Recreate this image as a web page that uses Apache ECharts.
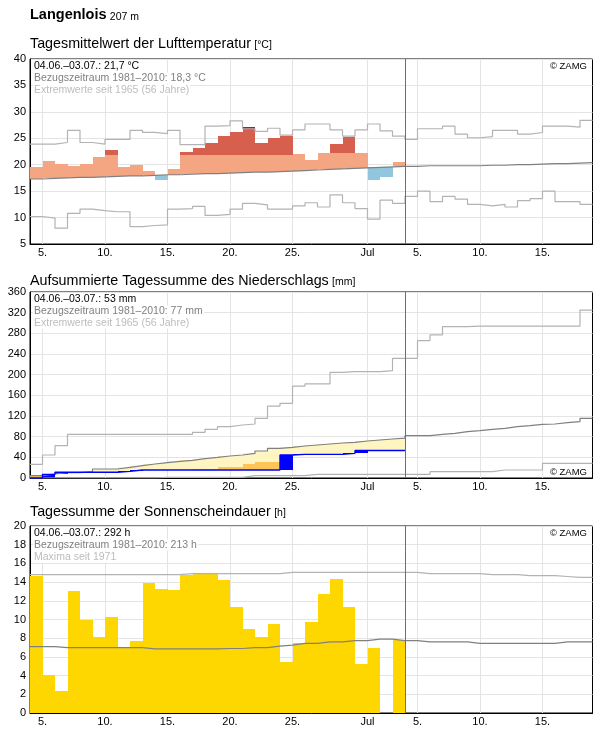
<!DOCTYPE html>
<html>
<head>
<meta charset="utf-8">
<script src="https://cdn.jsdelivr.net/npm/echarts@6/dist/echarts.min.js"></script>
<style>
  html, body { margin: 0; padding: 0; background: #fff; }
  #chart { width: 596px; height: 729px; }
</style>
</head>
<body>
<div id="chart"></div>
<script>
// Tage ab 04.06. (Index 0) bis 18.07. (Index 44), heute = 04.07. (Index 30)
var tickDays = [1, 6, 11, 16, 21, 27, 31, 36, 41];
var tickLabels = ['5.', '10.', '15.', '20.', '25.', 'Jul', '5.', '10.', '15.'];
var todayIndex = 30;

// Lufttemperatur [°C]
var tempDaily = [19.6, 20.7, 20.1, 19.8, 20.1, 21.5, 22.7, 19.6, 19.9, 18.8, 17.1, 19.1, 22.5, 23.2, 24.2,
  25.4, 26.1, 27.2, 24.2, 25.1, 25.4, 22.0, 20.9, 22.2, 23.9, 25.3, 22.2, 17.1, 17.7, 20.5];
var tempUpperNormal = [21.8, 21.8, 21.8, 21.8, 21.8, 21.8, 21.8, 21.8, 21.8, 21.8, 21.8, 21.8, 21.9, 21.9, 21.9,
  21.9, 21.9, 21.9, 21.9, 21.9, 21.9, 22.3, 22.3, 22.3, 22.3, 22.3, 22.3, 22.3, 22.3, 22.3];
var tempNormal = [17.3, 17.4, 17.5, 17.6, 17.6, 17.7, 17.8, 17.9, 17.9, 18.0, 18.1, 18.1, 18.2, 18.3, 18.3,
  18.4, 18.5, 18.6, 18.6, 18.7, 18.8, 18.9, 19.0, 19.1, 19.2, 19.3, 19.4, 19.5, 19.6, 19.7,
  19.7, 19.8, 19.8, 19.8, 19.8, 19.8, 19.9, 19.9, 20.0, 20.0, 20.1, 20.2, 20.2, 20.3, 20.4];
var tempMax = [23.9, 23.9, 24.2, 26.5, 24.2, 23.9, 24.8, 24.8, 26.5, 26.1, 25.9, 26.5, 23.8, 23.8, 27.3,
  27.4, 28.3, 26.8, 26.3, 26.9, 25.6, 26.6, 27.7, 27.7, 26.6, 25.4, 26.6, 27.7, 26.4, 25.4,
  24.8, 26.8, 26.8, 27.3, 25.8, 25.1, 25.3, 26.5, 26.5, 25.8, 26.1, 27.3, 27.3, 27.1, 28.4];
var tempMin = [10.2, 9.9, 8.0, 10.8, 11.6, 11.3, 11.1, 11.1, 8.3, 8.5, 8.6, 11.6, 11.7, 12.1, 10.4,
  10.6, 11.6, 12.7, 12.4, 11.6, 11.6, 12.2, 12.8, 12.0, 14.3, 12.8, 11.7, 9.7, 13.3, 12.7,
  14.0, 15.0, 13.0, 14.0, 13.5, 12.5, 12.2, 12.5, 12.0, 13.2, 13.6, 15.0, 13.0, 13.0, 12.5];

// Niederschlag, aufsummiert [mm]
var precipCum = [0, 7.1, 11, 11, 11, 11, 11, 12.9, 15.5, 15.5, 15.5, 15.5, 15.5, 15.5, 15.5,
  15.5, 15.5, 15.5, 15.5, 15.5, 44.6, 45.8, 45.8, 45.8, 45.8, 47.7, 53.3, 53.3, 53.3, 53.3];
var precipLow = [4.3, 4, 5, 6, 7, 9, 9, 10, 11, 12, 13, 14, 15, 18, 18,
  21.9, 21.9, 27, 31.6, 31.6, 33, 34, 35, 36, 37, 38, 39, 40, 41, 42];
var precipNormal = [4.5, 7.7, 10.3, 10.3, 12.3, 17.4, 17.4, 20.6, 23.9, 27.1, 29.7, 32.2, 34.2, 37.5, 40,
  42.6, 44.5, 47.7, 52.3, 57.4, 59.4, 61.9, 63.9, 65.8, 67.7, 69, 71.6, 73.5, 75.5, 77,
  81.9, 81.9, 84.5, 86.4, 89.7, 91.6, 94.2, 96.1, 99.4, 101.3, 103.9, 104.5, 107.1, 109, 115.5];
var precipMax = [26.5, 44.5, 62.5, 84.5, 84.5, 84.5, 84.5, 84.5, 84.5, 84.5, 84.5, 84.5, 84.5, 88.4, 94.2,
  99.3, 102.6, 104.5, 115.5, 139.3, 144.5, 178, 182, 182, 204.5, 205.8, 205.8, 205.8, 207.7, 231.6,
  231.6, 266, 277, 293, 293, 294, 294, 294, 294, 294, 294, 294, 294, 294, 325];
var precipMin = [0, 0, 0, 0, 0, 0, 0, 0, 0, 0, 1.3, 1.3, 1.3, 1.3, 1.3,
  1.3, 1.3, 4.5, 4.5, 4.5, 4.5, 4.5, 7.1, 7.1, 7.1, 7.1, 7.1, 7.1, 7.1, 7.1,
  7.1, 7.1, 12.3, 12.3, 12.3, 12.3, 12.3, 15.5, 15.5, 15.5, 15.5, 28.4, 28.4, 28.4, 28.4];

// Sonnenscheindauer [h]
var sunDaily = [14.6, 4.1, 2.3, 13.0, 9.9, 8.1, 10.3, 7.0, 7.7, 13.9, 13.3, 13.2, 14.8, 14.9, 14.9,
  14.2, 11.3, 9.0, 8.1, 9.5, 5.5, 7.5, 9.7, 12.7, 14.3, 11.3, 5.2, 6.9, 0, 7.8];
var sunNormal = [7.1, 7.1, 7.0, 7.0, 7.0, 7.0, 7.0, 7.0, 7.0, 6.85, 6.85, 6.85, 6.85, 6.85, 6.85,
  6.9, 6.9, 7.0, 7.0, 7.15, 7.25, 7.45, 7.45, 7.6, 7.6, 7.75, 7.75, 7.9, 7.9, 7.75,
  7.75, 7.6, 7.6, 7.6, 7.6, 7.45, 7.45, 7.45, 7.45, 7.45, 7.45, 7.45, 7.6, 7.6, 7.6];
var sunMax = [14.8, 14.8, 14.8, 14.8, 14.8, 14.8, 14.8, 14.8, 14.8, 14.8, 14.8, 14.8, 14.9, 14.9, 14.9,
  14.9, 14.9, 14.9, 14.9, 14.9, 15.05, 15.05, 15.05, 15.05, 15.05, 15.05, 15.05, 15.05, 15.05, 15.05,
  15.05, 14.9, 14.9, 14.9, 14.9, 14.9, 14.8, 14.8, 14.8, 14.7, 14.7, 14.7, 14.6, 14.5, 14.5];

var FONT = '"Liberation Sans", Arial, sans-serif';
var GRID_COLOR = '#e4e4e4';
var EXT_COLOR = '#b3b3b3';
var NORM_COLOR = '#808080';

function stepData(arr) {
  var out = arr.map(function (v, i) { return [i, v]; });
  out.push([arr.length, arr[arr.length - 1]]);
  return out;
}

// ganzer Tag als Rechteck, auf ganze Pixel gerundet (keine Haarlinien zwischen den Balken)
function rectOf(api, i, lo, hi, color) {
  var p0 = api.coord([i, hi]);
  var p1 = api.coord([i + 1, lo]);
  var x0 = Math.round(p0[0]), x1 = Math.round(p1[0]);
  var y0 = Math.round(p0[1]), y1 = Math.round(p1[1]);
  return {
    type: 'rect',
    shape: { x: x0, y: y0, width: x1 - x0, height: y1 - y0 },
    style: { fill: color }
  };
}

function renderTemp(params, api) {
  var i = api.value(0), mean = api.value(1), val = api.value(2), upper = api.value(3), max = api.value(4);
  var parts = [];
  if (val >= mean) {
    parts.push(rectOf(api, i, mean, Math.min(val, upper), '#f4a582'));
    if (val > upper) parts.push(rectOf(api, i, upper, Math.min(val, max), '#d6604d'));
    if (val > max) parts.push(rectOf(api, i, max, val, '#b2182b'));
  } else {
    parts.push(rectOf(api, i, val, mean, '#92c5de'));
  }
  return { type: 'group', children: parts };
}

function renderPrecip(params, api) {
  var i = api.value(0), prev = api.value(1), cum = api.value(2), norm = api.value(3), low = api.value(4);
  var parts = [];
  if (cum < norm) parts.push(rectOf(api, i, cum, norm, '#fff5c0'));
  if (cum < low) parts.push(rectOf(api, i, cum, Math.min(low, norm), '#fdc458'));
  if (cum > prev) parts.push(rectOf(api, i, prev, cum, '#0000ff'));
  return { type: 'group', children: parts };
}

function renderSun(params, api) {
  var i = api.value(0), v = api.value(1);
  if (!(v > 0)) return null;
  return rectOf(api, i, 0, v, '#ffd700');
}

function xAxisFor(idx) {
  return {
    type: 'value', gridIndex: idx, min: 0, max: 45,
    axisLine: { show: true, onZero: false, lineStyle: { color: '#000', width: 1 } },
    axisTick: { show: false, customValues: tickDays },
    axisLabel: {
      customValues: tickDays, margin: 3, fontSize: 11, fontFamily: FONT, color: '#000',
      formatter: function (v) { var k = tickDays.indexOf(v); return k >= 0 ? tickLabels[k] : ''; }
    },
    splitLine: { show: true, lineStyle: { color: GRID_COLOR, width: 1 } }
  };
}

function yAxisFor(idx, min, max, interval) {
  return {
    type: 'value', gridIndex: idx, min: min, max: max, interval: interval,
    axisLine: { show: true, lineStyle: { color: '#000', width: 1 } },
    axisTick: { show: false },
    axisLabel: { margin: 4, fontSize: 11, fontFamily: FONT, color: '#000' },
    splitLine: { show: true, lineStyle: { color: GRID_COLOR, width: 1 } }
  };
}

function stepLine(idx, arr, color, width, z) {
  return {
    type: 'line', xAxisIndex: idx, yAxisIndex: idx, step: 'end', data: stepData(arr),
    symbol: 'none', silent: true, z: z || 3,
    lineStyle: { color: color, width: width || 1 }
  };
}

function todayLine(idx) {
  return {
    type: 'line', xAxisIndex: idx, yAxisIndex: idx, data: [], silent: true, z: 6,
    markLine: {
      symbol: 'none', silent: true, label: { show: false },
      lineStyle: { color: '#6e6e6e', width: 1, type: 'solid' },
      data: [{ xAxis: todayIndex }]
    }
  };
}

function infoTexts(top, lines) {
  var colors = ['#000', '#808080', '#bdbdbd'];
  return lines.map(function (t, k) {
    return {
      type: 'text', x: 33, y: top + 7 + k * 12, silent: true, z: 10,
      style: {
        text: t, fontSize: 10.5, fontFamily: FONT, fill: colors[k], verticalAlign: 'middle',
        backgroundColor: '#fff', padding: [0, 1, 0, 1]
      }
    };
  });
}

function zamg(y) {
  return {
    type: 'text', x: 588, y: y, silent: true, z: 10,
    style: {
      text: '© ZAMG', fontSize: 9.5, fontFamily: FONT, fill: '#000', align: 'right', verticalAlign: 'middle',
      backgroundColor: '#fff', padding: [0, 1, 0, 1]
    }
  };
}

function heading(y, main, unit, bold, size, unitSize) {
  return {
    type: 'text', x: 30, y: y, silent: true,
    style: {
      text: '{a|' + main + '} {b|' + unit + '}', verticalAlign: 'middle',
      rich: {
        a: { fontSize: size, fontWeight: bold ? 'bold' : 'normal', fontFamily: FONT, fill: '#000', verticalAlign: 'bottom' },
        b: { fontSize: unitSize, fontFamily: FONT, fill: '#000', verticalAlign: 'bottom' }
      }
    }
  };
}

var chart = echarts.init(document.getElementById('chart'), null, { renderer: 'canvas' });

var option = {
  animation: false,
  backgroundColor: '#fff',
  grid: [
    { left: 30, top: 59, width: 562.5, height: 185, show: true, borderColor: '#000', borderWidth: 1, backgroundColor: 'transparent' },
    { left: 30, top: 292, width: 562.5, height: 186, show: true, borderColor: '#000', borderWidth: 1, backgroundColor: 'transparent' },
    { left: 30, top: 526, width: 562.5, height: 187, show: true, borderColor: '#000', borderWidth: 1, backgroundColor: 'transparent' }
  ],
  xAxis: [xAxisFor(0), xAxisFor(1), xAxisFor(2)],
  yAxis: [yAxisFor(0, 5, 40, 5), yAxisFor(1, 0, 360, 40), yAxisFor(2, 0, 20, 2)],
  graphic: [
    heading(15, 'Langenlois', '207 m', true, 14.5, 10.5),
    heading(44, 'Tagesmittelwert der Lufttemperatur', '[°C]', false, 14.3, 10.5),
    heading(281, 'Aufsummierte Tagessumme des Niederschlags', '[mm]', false, 14.3, 10.5),
    heading(512, 'Tagessumme der Sonnenscheindauer', '[h]', false, 14.3, 10.5),
    zamg(66), zamg(472), zamg(533)
  ].concat(
    infoTexts(59, ['04.06.–03.07.: 21,7 °C', 'Bezugszeitraum 1981–2010: 18,3 °C', 'Extremwerte seit 1965 (56 Jahre)']),
    infoTexts(292, ['04.06.–03.07.: 53 mm', 'Bezugszeitraum 1981–2010: 77 mm', 'Extremwerte seit 1965 (56 Jahre)']),
    infoTexts(526, ['04.06.–03.07.: 292 h', 'Bezugszeitraum 1981–2010: 213 h', 'Maxima seit 1971'])
  ),
  series: [
    {
      type: 'custom', xAxisIndex: 0, yAxisIndex: 0, renderItem: renderTemp, silent: true, z: 2,
      data: tempDaily.map(function (v, i) { return [i, tempNormal[i], v, tempUpperNormal[i], tempMax[i]]; })
    },
    stepLine(0, tempMax, EXT_COLOR, 1.2),
    stepLine(0, tempMin, EXT_COLOR, 1.2),
    stepLine(0, tempNormal, NORM_COLOR, 1.2),
    todayLine(0),

    {
      type: 'custom', xAxisIndex: 1, yAxisIndex: 1, renderItem: renderPrecip, silent: true, z: 2,
      data: precipCum.map(function (v, i) { return [i, i > 0 ? precipCum[i - 1] : 0, v, precipNormal[i], precipLow[i]]; })
    },
    stepLine(1, precipMax, EXT_COLOR, 1.2),
    stepLine(1, precipMin, EXT_COLOR, 1.2),
    stepLine(1, precipNormal, NORM_COLOR, 1.2),
    stepLine(1, precipCum, '#0000ff', 1.4, 4),
    todayLine(1),

    {
      type: 'custom', xAxisIndex: 2, yAxisIndex: 2, renderItem: renderSun, silent: true, z: 2,
      data: sunDaily.map(function (v, i) { return [i, v]; })
    },
    stepLine(2, sunMax, EXT_COLOR, 1.2),
    stepLine(2, sunNormal, NORM_COLOR, 1.2),
    todayLine(2)
  ]
};

chart.setOption(option);
</script>
</body>
</html>
